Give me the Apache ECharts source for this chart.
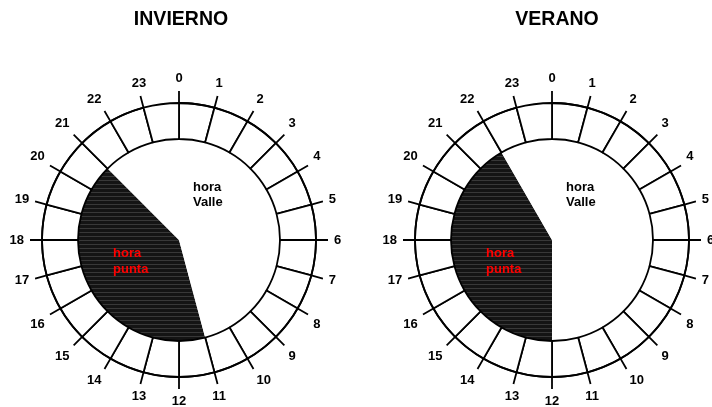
<!DOCTYPE html>
<html>
<head>
<meta charset="utf-8">
<script src="https://cdn.jsdelivr.net/npm/echarts@6/dist/echarts.min.js"></script>
<style>html,body{margin:0;padding:0;background:#fff;}#c{width:712px;height:407px;}</style>
</head>
<body>
<div id="c"></div>
<script>
// ---- data ----
const hours = ['0','1','2','3','4','5','6','7','8','9','10','11','12','13','14','15','16','17','18','19','20','21','22','23'];
const seasonTitles = ['INVIERNO', 'VERANO'];
const peakStart = [11, 12];   // hora punta start hour (clockwise)
const peakEnd = [21, 22];     // hora punta end hour
const valleLabel = 'hora\nValle';
const puntaLabel = 'hora\npunta';

// ---- layout ----
const centers = [[179, 240], [552, 240]];
const R_OUT = 137, R_IN = 101;
const FONT = "'Liberation Sans', Arial, sans-serif";

const chart = echarts.init(document.getElementById('c'), null, {renderer: 'canvas'});

const polar = [], angleAxis = [], radiusAxis = [], series = [], graphic = [];
centers.forEach(function (c, i) {
  polar.push({center: c, radius: R_OUT});
  angleAxis.push({
    polarIndex: i, type: 'category', data: hours, boundaryGap: false,
    startAngle: 90, clockwise: true, z: 5,
    axisLine: {show: true, lineStyle: {color: '#000', width: 1.8}},
    axisTick: {show: true, inside: false, length: 12, lineStyle: {color: '#000', width: 1.8}},
    axisLabel: {show: true, margin: 18, color: '#000', fontSize: 13, fontWeight: 'bold', fontFamily: FONT},
    splitLine: {show: false}
  });
  radiusAxis.push({polarIndex: i, type: 'value', min: 0, max: 1, show: false});

  const peakHours = peakEnd[i] - peakStart[i];
  series.push({
    type: 'pie', center: c, radius: [0, R_IN], silent: true, animation: false, z: 2,
    startAngle: 90 - 15 * peakStart[i], clockwise: true,
    label: {show: false}, labelLine: {show: false},
    emphasis: {disabled: true},
    data: [
      {value: peakHours, name: 'punta', itemStyle: {
        color: '#141414',
        decal: {symbol: 'rect', symbolSize: 1, dashArrayX: [[1, 0]], dashArrayY: [1, 3], color: 'rgba(100,100,100,0.45)'}
      }},
      {value: 24 - peakHours, name: 'valle', itemStyle: {color: '#fff'}}
    ]
  });
  series.push({
    type: 'pie', center: c, radius: [R_IN, R_OUT], silent: true, animation: false, z: 3,
    startAngle: 90, clockwise: true,
    label: {show: false}, labelLine: {show: false},
    emphasis: {disabled: true},
    itemStyle: {color: '#fff', borderColor: '#000', borderWidth: 1.8},
    data: hours.map(function (h) { return {value: 1, name: h}; })
  });

  graphic.push({type: 'text', x: c[0] + 2 + (i ? 3 : 0), y: 20, z: 10,
    style: {text: seasonTitles[i], fill: '#000', font: 'bold 19.5px ' + FONT, textAlign: 'center', textVerticalAlign: 'middle'}});
  graphic.push({type: 'text', x: c[0] + 14, y: 195, z: 10,
    style: {text: valleLabel, fill: '#000', font: 'bold 13px ' + FONT, lineHeight: 15.5, textAlign: 'left', textVerticalAlign: 'middle'}});
  graphic.push({type: 'text', x: c[0] - 66, y: 261, z: 10,
    style: {text: puntaLabel, fill: '#ff0000', font: 'bold 13px ' + FONT, lineHeight: 16, textAlign: 'left', textVerticalAlign: 'middle'}});
});

chart.setOption({
  backgroundColor: '#fff',
  animation: false,
  polar: polar,
  angleAxis: angleAxis,
  radiusAxis: radiusAxis,
  series: series,
  graphic: graphic
});
</script>
</body>
</html>
